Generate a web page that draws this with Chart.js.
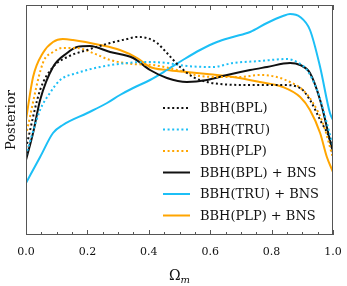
<!DOCTYPE html>
<html lang="en">
<head>
<meta charset="UTF-8">
<title>Posterior</title>
<script src="https://cdn.jsdelivr.net/npm/chart.js"></script>
<style>
    body { margin: 0; background: #fff; }
    #box { width: 347px; height: 286px; }
</style>
</head>
<body>
<div id="box"><canvas id="myChart"></canvas></div>
<script>
// values (x = Omega_m, y = posterior, arbitrary units)
var bplX = [0, 0.046, 0.088, 0.134, 0.199, 0.274, 0.329, 0.362, 0.394, 0.427, 0.459, 0.502, 0.544, 0.59, 0.632, 0.73, 0.837, 0.893, 0.925, 0.958, 0.99, 1.0];
var bplY = [87, 145, 168, 178, 185, 192, 196, 198, 197, 192, 182, 168, 158, 153, 151, 150, 150, 147, 135, 115, 95, 82];

var truX = [0, 0.046, 0.078, 0.111, 0.166, 0.241, 0.329, 0.394, 0.459, 0.524, 0.609, 0.674, 0.762, 0.85, 0.883, 0.915, 0.948, 0.98, 1.0];
var truY = [80, 125, 142, 155, 162, 168, 172, 173, 172, 169, 168, 172, 174, 176, 173, 165, 145, 112, 88];

var plpX = [0, 0.055, 0.088, 0.12, 0.166, 0.218, 0.274, 0.349, 0.414, 0.492, 0.567, 0.632, 0.697, 0.762, 0.817, 0.86, 0.902, 0.935, 0.967, 1.0];
var plpY = [100, 172, 183, 187, 187, 182, 175, 171, 170, 165, 159, 158, 158, 160, 158, 153, 145, 132, 112, 77];

var bplBnsX = [0, 0.023, 0.046, 0.088, 0.134, 0.166, 0.208, 0.274, 0.349, 0.404, 0.459, 0.524, 0.59, 0.655, 0.73, 0.785, 0.86, 0.893, 0.925, 0.958, 0.99, 1.0];
var bplBnsY = [75, 102, 135, 168, 182, 188, 189, 183, 177, 165, 157, 153, 155, 160, 165, 168, 172, 170, 162, 135, 95, 83];

var truBnsX = [0, 0.046, 0.088, 0.12, 0.2, 0.264, 0.306, 0.349, 0.404, 0.459, 0.511, 0.567, 0.622, 0.674, 0.73, 0.785, 0.837, 0.86, 0.893, 0.925, 0.958, 0.99, 1.0];
var truBnsY = [52, 78, 102, 110, 122, 132, 140, 147, 155, 165, 175, 185, 193, 198, 203, 212, 219, 221, 218, 205, 168, 122, 115];

var plpBnsX = [0, 0.023, 0.055, 0.088, 0.12, 0.153, 0.241, 0.306, 0.362, 0.404, 0.459, 0.524, 0.59, 0.674, 0.762, 0.837, 0.893, 0.925, 0.958, 0.98, 1.0];
var plpBnsY = [115, 158, 182, 193, 196, 195, 190, 185, 177, 168, 165, 163, 161, 158, 153, 148, 138, 125, 102, 78, 63];

var xTicks = [0, 0.2, 0.4, 0.6, 0.8, 1.0];
var labels = ['BBH(BPL)', 'BBH(TRU)', 'BBH(PLP)', 'BBH(BPL) + BNS', 'BBH(TRU) + BNS', 'BBH(PLP) + BNS'];

var black = '#111111';
var blue = '#1cbff6';
var orange = '#ffa500';
var serif = 'DejaVu Serif';

function pts(xs, ys) {
    return xs.map(function (x, i) { return { x: x, y: ys[i] }; });
}

function line(label, xs, ys, color, dotted) {
    return {
        label: label,
        data: pts(xs, ys),
        borderColor: color,
        backgroundColor: color,
        borderWidth: 2,
        borderDash: dotted ? [2, 2.6] : [],
        pointRadius: 0,
        fill: false,
        cubicInterpolationMode: 'monotone'
    };
}

// frame, inward ticks, titles and legend
var extras = {
    id: 'extras',
    afterDraw: function (chart) {
        var ctx = chart.ctx;
        var a = chart.chartArea;
        var xs = chart.scales.x;
        ctx.save();
        ctx.strokeStyle = '#555';
        ctx.lineWidth = 1;
        ctx.strokeRect(a.left + 0.5, a.top + 0.5, a.right - a.left - 1, a.bottom - a.top - 1);
        for (var k = 0; k <= 20; k++) {
            var v = k * 0.05;
            var px = Math.round(xs.getPixelForValue(v)) + 0.5;
            var len = (k % 4 == 0) ? 5 : 3;
            ctx.beginPath();
            ctx.moveTo(px, a.bottom);
            ctx.lineTo(px, a.bottom - len);
            ctx.moveTo(px, a.top);
            ctx.lineTo(px, a.top + len);
            ctx.stroke();
        }

        // x title: Omega_m
        ctx.fillStyle = '#111';
        ctx.textBaseline = 'alphabetic';
        ctx.font = '14px "' + serif + '"';
        var cx = (a.left + a.right) / 2;
        var w1 = ctx.measureText('Ω').width;
        ctx.font = 'italic 10px "' + serif + '"';
        var w2 = ctx.measureText('m').width;
        var x0 = cx - (w1 + w2) / 2;
        ctx.font = '14px "' + serif + '"';
        ctx.textAlign = 'left';
        ctx.fillText('Ω', x0, 280);
        ctx.font = 'italic 10px "' + serif + '"';
        ctx.fillText('m', x0 + w1, 283);

        // y title
        ctx.save();
        ctx.translate(12, (a.top + a.bottom) / 2);
        ctx.rotate(-Math.PI / 2);
        ctx.font = '13px "' + serif + '"';
        ctx.textAlign = 'center';
        ctx.textBaseline = 'middle';
        ctx.fillText('Posterior', 0, 0);
        ctx.restore();

        // legend
        chart.data.datasets.forEach(function (ds, i) {
            var y = 108 + i * 21.5;
            ctx.beginPath();
            ctx.strokeStyle = ds.borderColor;
            ctx.lineWidth = 2;
            ctx.setLineDash(ds.borderDash);
            ctx.moveTo(163, y);
            ctx.lineTo(190, y);
            ctx.stroke();
            ctx.setLineDash([]);
            ctx.fillStyle = '#111';
            ctx.font = '13px "' + serif + '"';
            ctx.textAlign = 'left';
            ctx.textBaseline = 'middle';
            ctx.fillText(ds.label, 200, y + 1);
        });
        ctx.restore();
    }
};

new Chart(document.getElementById('myChart'), {
    type: 'line',
    data: {
        datasets: [
            line(labels[0], bplX, bplY, black, true),
            line(labels[1], truX, truY, blue, true),
            line(labels[2], plpX, plpY, orange, true),
            line(labels[3], bplBnsX, bplBnsY, black, false),
            line(labels[4], truBnsX, truBnsY, blue, false),
            line(labels[5], plpBnsX, plpBnsY, orange, false)
        ]
    },
    options: {
        responsive: true,
        maintainAspectRatio: false,
        animation: false,
        layout: { padding: { top: 5, right: 14, left: 0, bottom: 0 } },
        plugins: { legend: { display: false }, tooltip: { enabled: false } },
        scales: {
            x: {
                type: 'linear',
                min: 0,
                max: 1,
                afterFit: function (s) {
                    s.height = 51;
                    s.paddingLeft = 0;
                    s.paddingRight = 0;
                },
                afterBuildTicks: function (s) {
                    s.ticks = xTicks.map(function (v) { return { value: v }; });
                },
                grid: { display: false, drawTicks: false },
                border: { display: false },
                ticks: {
                    color: '#111',
                    font: { family: serif, size: 11 },
                    padding: 11,
                    maxRotation: 0,
                    callback: function (v) { return Number(v).toFixed(1); }
                }
            },
            y: {
                min: 0,
                max: 230,
                afterFit: function (s) { s.width = 26; },
                grid: { display: false, drawTicks: false },
                border: { display: false },
                ticks: { display: false }
            }
        }
    },
    plugins: [extras]
});
</script>
</body>
</html>
